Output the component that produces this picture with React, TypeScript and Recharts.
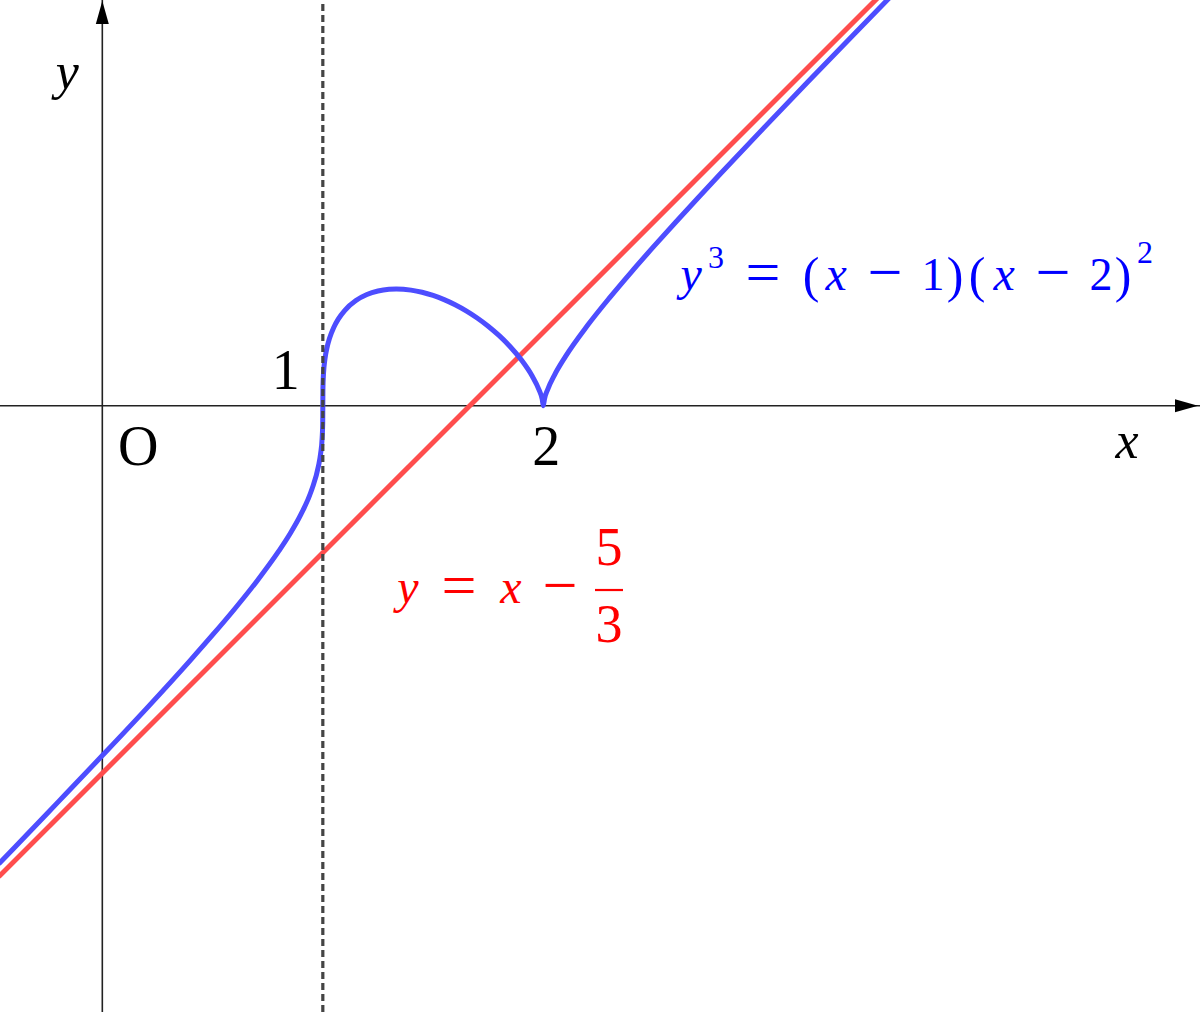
import { LineChart, Line, XAxis, YAxis, ReferenceLine, ReferenceDot } from "recharts";

// blue curve y^3 = (x-1)(x-2)^2
const blueX = [
  -0.47, -0.4, -0.2, 0, 0.2, 0.4, 0.5, 0.6, 0.7, 0.8, 0.85, 0.9, 0.95, 0.98, 0.99, 0.997, 0.9995, 1,
  1.0005, 1.003, 1.01, 1.02, 1.03, 1.05, 1.07, 1.1, 1.15, 1.2, 1.25, 1.3, 1.3333, 1.4, 1.45, 1.5,
  1.55, 1.6, 1.65, 1.7, 1.75, 1.8, 1.85, 1.9, 1.95, 1.98, 1.995, 2, 2.005, 2.02, 2.05, 2.1, 2.2,
  2.3, 2.4, 2.5, 2.6, 2.7, 2.8, 3.0, 3.2, 3.4, 3.6,
];
const blueY = [
  -2.078, -2.006, -1.797, -1.587, -1.374, -1.154, -1.04, -0.922, -0.797, -0.66, -0.5832, -0.4946,
  -0.3806, -0.275, -0.2169, -0.1444, -0.0794, 0,
  0.0794, 0.1439, 0.214, 0.2679, 0.3045, 0.3561, 0.3927, 0.4327, 0.4767, 0.504, 0.52, 0.5278,
  0.5291, 0.5241, 0.5145, 0.5, 0.4812, 0.4579, 0.4302, 0.3979, 0.3606, 0.3175, 0.2674, 0.208,
  0.1334, 0.0732, 0.0292, 0, 0.0293, 0.0742, 0.1379, 0.2224, 0.3634, 0.489, 0.6074, 0.7211,
  0.832, 0.9409, 1.0483, 1.2599, 1.4689, 1.6758, 1.8812,
];

// red asymptote y = x - 5/3
const redX = [-0.47, 3.6];
const redY = [-2.1367, 1.9333];

const xDomain: [number, number] = [-0.464, 4.978];
const yDomain: [number, number] = [-2.75, 1.84];

const blueData = blueX.map((x, i) => ({ x, y: blueY[i] }));
const redData = redX.map((x, i) => ({ x, y: redY[i] }));

const serif = "'Liberation Serif', 'DejaVu Serif', serif";

// one glyph (or short run) centred at x, on baseline y
function G({ x, y, t, size = 44, italic = false, fill }: any) {
  return (
    <text
      x={x}
      y={y}
      fontFamily={serif}
      fontSize={size}
      fontStyle={italic ? "italic" : "normal"}
      fill={fill}
      textAnchor="middle"
    >
      {t}
    </text>
  );
}

export default function App() {
  return (
    <div style={{ position: "absolute", left: 0, top: 0, width: 1200, height: 1012, background: "#fff" }}>
      <LineChart width={1200} height={1012} margin={{ top: 0, right: 0, bottom: 0, left: 0 }}>
        <XAxis type="number" dataKey="x" domain={xDomain} allowDataOverflow hide />
        <YAxis type="number" dataKey="y" domain={yDomain} allowDataOverflow hide />

        <ReferenceLine y={0} stroke="#222" strokeWidth={1.6} ifOverflow="visible" />
        <ReferenceLine x={0} stroke="#222" strokeWidth={1.6} ifOverflow="visible" />

        <Line
          data={redData}
          dataKey="y"
          type="linear"
          stroke="#ff4d4d"
          strokeWidth={5}
          dot={false}
          activeDot={false}
          isAnimationActive={false}
        />
        <Line
          data={blueData}
          dataKey="y"
          type="monotoneX"
          stroke="#4d4dff"
          strokeWidth={5}
          dot={false}
          activeDot={false}
          isAnimationActive={false}
        />

        <ReferenceLine x={1} stroke="#444" strokeWidth={3.2} strokeDasharray="7 4" ifOverflow="visible" />

        {/* arrow heads */}
        <ReferenceDot
          x={xDomain[1]}
          y={0}
          ifOverflow="visible"
          shape={(p: any) => (
            <path d={`M${p.cx - 2},${p.cy} L${p.cx - 25},${p.cy - 6.5} L${p.cx - 25},${p.cy + 6.5} Z`} fill="#000" />
          )}
        />
        <ReferenceDot
          x={0}
          y={yDomain[1]}
          ifOverflow="visible"
          shape={(p: any) => (
            <path d={`M${p.cx},${p.cy + 1} L${p.cx - 6.5},${p.cy + 24} L${p.cx + 6.5},${p.cy + 24} Z`} fill="#000" />
          )}
        />

        {/* axis labels */}
        <ReferenceDot x={0} y={0} ifOverflow="visible"
          shape={(p: any) => <G x={p.cx + 36} y={p.cy + 59} t="O" size={56} fill="#000" />} />
        <ReferenceDot x={1} y={0} ifOverflow="visible"
          shape={(p: any) => <G x={p.cx - 37} y={p.cy - 17} t="1" size={56} fill="#000" />} />
        <ReferenceDot x={2} y={0} ifOverflow="visible"
          shape={(p: any) => <G x={p.cx + 3} y={p.cy + 59} t="2" size={56} fill="#000" />} />
        <ReferenceDot x={xDomain[1]} y={0} ifOverflow="visible"
          shape={(p: any) => <G x={p.cx - 73} y={p.cy + 52} t="x" size={52} italic fill="#000" />} />
        <ReferenceDot x={0} y={yDomain[1]} ifOverflow="visible"
          shape={(p: any) => <G x={p.cx - 35} y={p.cy + 89} t="y" size={52} italic fill="#000" />} />

        {/* curve equation  y³ = (x − 1)(x − 2)² */}
        <ReferenceDot
          x={2.6}
          y={0.525}
          ifOverflow="visible"
          shape={(p: any) => {
            const c = "#0000ff";
            const b = p.cy;
            const o = p.cx - 675.6;
            return (
              <g>
                <G x={o + 691} y={b} t="y" size={48} italic fill={c} />
                <G x={o + 716} y={b - 22} t="3" size={32} fill={c} />
                <G x={o + 763} y={b + 3} t="=" size={62} fill={c} />
                <G x={o + 811} y={b + 2} t="(" size={50} fill={c} />
                <G x={o + 836} y={b} t="x" size={48} italic fill={c} />
                <G x={o + 885} y={b + 3} t="−" size={62} fill={c} />
                <G x={o + 933} y={b} t="1" size={46} fill={c} />
                <G x={o + 955} y={b + 2} t=")" size={50} fill={c} />
                <G x={o + 977} y={b + 2} t="(" size={50} fill={c} />
                <G x={o + 1004} y={b} t="x" size={48} italic fill={c} />
                <G x={o + 1053} y={b + 3} t="−" size={62} fill={c} />
                <G x={o + 1101} y={b} t="2" size={46} fill={c} />
                <G x={o + 1123} y={b + 2} t=")" size={50} fill={c} />
                <G x={o + 1145} y={b - 27} t="2" size={32} fill={c} />
              </g>
            );
          }}
        />

        {/* asymptote equation  y = x − 5/3 */}
        <ReferenceDot
          x={1.33}
          y={-0.895}
          ifOverflow="visible"
          shape={(p: any) => {
            const c = "#ff0000";
            const b = p.cy;
            const o = p.cx - 395.6;
            return (
              <g>
                <G x={o + 408} y={b} t="y" size={48} italic fill={c} />
                <G x={o + 459} y={b + 3} t="=" size={62} fill={c} />
                <G x={o + 511} y={b} t="x" size={48} italic fill={c} />
                <G x={o + 560} y={b + 3} t="−" size={62} fill={c} />
                <G x={o + 609} y={b - 38} t="5" size={54} fill={c} />
                <line x1={o + 595} x2={o + 623} y1={b - 13} y2={b - 13} stroke={c} strokeWidth={2.2} />
                <G x={o + 609} y={b + 39} t="3" size={54} fill={c} />
              </g>
            );
          }}
        />
      </LineChart>
    </div>
  );
}
